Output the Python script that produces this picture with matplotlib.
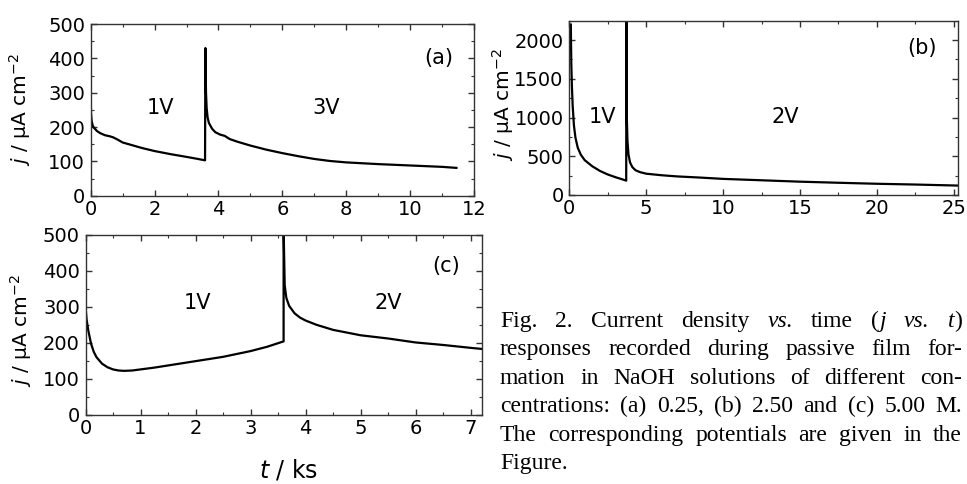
import numpy as np
import matplotlib
matplotlib.use('Agg')
import matplotlib.pyplot as plt
from matplotlib.ticker import MultipleLocator

# panel (a): 0.25 M NaOH, 1V then 3V
t_a = [0, 0.01, 0.03, 0.06, 0.1, 0.2, 0.3, 0.45, 0.6, 0.7, 0.85, 1.0, 1.3, 1.6,
       2.0, 2.5, 3.0, 3.3, 3.58, 3.59, 3.61, 3.63, 3.66, 3.7, 3.8, 3.9, 4.05,
       4.2, 4.35, 4.6, 5.0, 5.5, 6.0, 6.5, 7.0, 7.5, 8.0, 9.0, 10.0, 11.0, 11.45]
j_a = [290, 240, 218, 205, 198, 188, 182, 176, 173, 170, 163, 155, 147, 139,
       130, 121, 113, 108, 103, 430, 300, 255, 228, 212, 195, 185, 178,
       174, 165, 157, 146, 134, 124, 115, 107, 101, 97, 92, 88, 84, 81]

# panel (b): 2.50 M NaOH, 1V then 2V
t_b = [0.1, 0.11, 0.13, 0.17, 0.22, 0.3, 0.4, 0.55, 0.75, 1.0, 1.5, 2.0, 2.5,
       3.0, 3.4, 3.7, 3.71, 3.74, 3.78, 3.85, 3.95, 4.1, 4.3, 4.6, 5.0, 6.0,
       7.0, 8.5, 10, 12.5, 15, 17.5, 20, 22.5, 25.2]
j_b = [2200, 2000, 1700, 1400, 1150, 900, 740, 610, 520, 450, 370, 310, 265,
       230, 205, 185, 2400, 1000, 700, 520, 420, 360, 320, 295, 275, 255,
       240, 225, 208, 190, 172, 158, 145, 135, 122]

# panel (c): 5.00 M NaOH, 1V then 2V
t_c = [0, 0.02, 0.05, 0.1, 0.15, 0.2, 0.3, 0.4, 0.5, 0.6, 0.7, 0.85, 1.0, 1.25,
       1.5, 2.0, 2.5, 3.0, 3.3, 3.6, 3.6, 3.62, 3.65, 3.7, 3.8, 3.9, 4.0, 4.2,
       4.5, 5.0, 5.5, 6.0, 6.5, 7.0, 7.2]
j_c = [300, 265, 235, 198, 175, 160, 142, 132, 126, 123, 122, 123, 126, 131,
       137, 149, 161, 177, 189, 204, 520, 360, 325, 303, 282, 270, 262, 250,
       236, 221, 212, 201, 194, 186, 183]

caption_lines = [
    [[('Fig.', 'normal')], [('2.', 'normal')], [('Current', 'normal')],
     [('density', 'normal')], [('vs.', 'italic')], [('time', 'normal')],
     [('(', 'normal'), ('j', 'italic')], [('vs.', 'italic')],
     [('t', 'italic'), (')', 'normal')]],
    'responses recorded during passive film for-',
    'mation in NaOH solutions of different con-',
    'centrations: (a) 0.25, (b) 2.50 and (c) 5.00 M.',
    'The corresponding potentials are given in the',
    'Figure.',
]

plt.rcParams['font.family'] = ['DejaVu Sans']
plt.rcParams['mathtext.fontset'] = 'dejavusans'

W, H = 967, 484
fig = plt.figure(figsize=(W / 100, H / 100), dpi=100)


def px_axes(x0, y0, x1, y1):
    # pixel box (left, top, right, bottom) -> figure axes
    return fig.add_axes([x0 / W, 1 - y1 / H, (x1 - x0) / W, (y1 - y0) / H])


def style(ax, xmaj, xmin, ymaj, ymin):
    ax.xaxis.set_major_locator(MultipleLocator(xmaj))
    ax.xaxis.set_minor_locator(MultipleLocator(xmin))
    ax.yaxis.set_major_locator(MultipleLocator(ymaj))
    ax.yaxis.set_minor_locator(MultipleLocator(ymin))
    ax.tick_params(which='both', direction='in', top=True, right=True,
                   labelsize=14, color='#333333')
    ax.tick_params(which='major', length=4.5, width=1)
    ax.tick_params(which='minor', length=2.5, width=0.8)
    ax.tick_params(axis='x', pad=3)
    ax.tick_params(axis='y', pad=4)
    for s in ax.spines.values():
        s.set_color('#333333')
        s.set_linewidth(1.0)
    ax.set_ylabel(r'$j$ / $\mathrm{\mu A\ cm^{-2}}$', fontsize=14.5)


ann = dict(fontsize=15, ha='center', va='center')

ax_a = px_axes(90.7, 24, 474, 195.7)
ax_a.plot(t_a, j_a, color='black', lw=1.6)
ax_a.set_xlim(0, 12)
ax_a.set_ylim(0, 500)
style(ax_a, 2, 1, 100, 50)
ax_a.yaxis.set_label_coords(-0.15, 0.5)
ax_a.text(10.9, 400, '(a)', **ann)
ax_a.text(2.17, 254, '1V', **ann)
ax_a.text(7.36, 254, '3V', **ann)

ax_b = px_axes(569.3, 20.7, 957.7, 195)
ax_b.plot(t_b, j_b, color='black', lw=1.6)
ax_b.set_xlim(0, 25.25)
ax_b.set_ylim(0, 2250)
style(ax_b, 5, 2.5, 500, 250)
ax_b.yaxis.set_label_coords(-0.137, 0.52)
ax_b.text(22.9, 1900, '(b)', **ann)
ax_b.text(2.15, 1007, '1V', **ann)
ax_b.text(14.06, 1007, '2V', **ann)

ax_c = px_axes(85.5, 235, 481.7, 414.7)
ax_c.plot(t_c, j_c, color='black', lw=1.6)
ax_c.set_xlim(0, 7.2)
ax_c.set_ylim(0, 500)
style(ax_c, 1, 0.5, 100, 50)
ax_c.yaxis.set_label_coords(-0.13, 0.47)
ax_c.text(6.56, 413, '(c)', **ann)
ax_c.text(2.03, 311, '1V', **ann)
ax_c.text(5.51, 311, '2V', **ann)

fig.text(289 / W, 1 - 477 / H, r'$t$ / ks', fontsize=17, ha='center',
         va='baseline')

# justified caption on the right
renderer = fig.canvas.get_renderer()
cap_x0, cap_x1 = 500, 962
base0, lead = 327, 28.4
cap_font = dict(family=['Liberation Serif', 'DejaVu Serif'], fontsize=17)


def seg_width(s, st):
    t = fig.text(0, 0, s, style=st, **cap_font)
    w = t.get_window_extent(renderer).width
    t.remove()
    return w


for i, line in enumerate(caption_lines):
    if isinstance(line, str):
        words = [[(w, 'normal')] for w in line.split()]
    else:
        words = line
    widths = [[seg_width(s, st) for s, st in w] for w in words]
    total = sum(sum(ws) for ws in widths)
    if i < len(caption_lines) - 1 and len(words) > 1:
        gap = (cap_x1 - cap_x0 - total) / (len(words) - 1)
    else:
        gap = seg_width('a b', 'normal') - seg_width('ab', 'normal')
    x = cap_x0
    y = 1 - (base0 + i * lead) / H
    for w, ws in zip(words, widths):
        for (s, st), sw in zip(w, ws):
            fig.text(x / W, y, s, style=st, va='baseline', ha='left', **cap_font)
            x += sw
        x += gap

fig.savefig('out.png', dpi=100)
